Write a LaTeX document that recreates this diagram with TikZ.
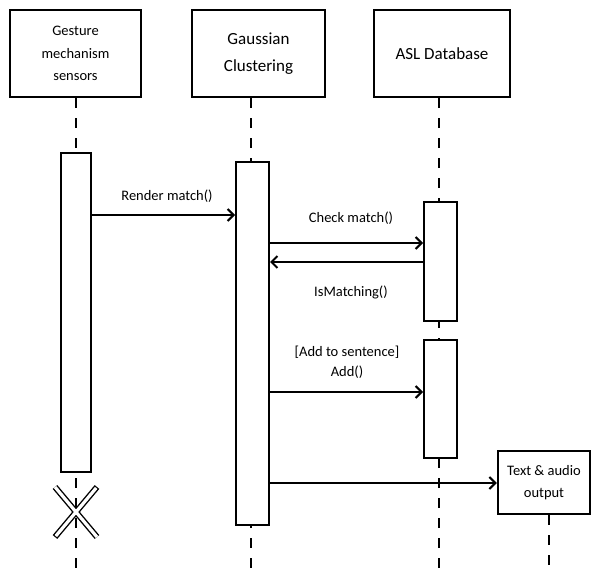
\documentclass[tikz,border=0pt]{standalone}
\usepackage{fontspec}
\setmainfont{Carlito}
\usetikzlibrary{arrows.meta}
\begin{document}
\begin{tikzpicture}[x=1pt,y=-1pt,
  objbox/.style={draw,line width=2.5pt,align=center,inner sep=0pt,font=\fontsize{14.5}{22.5}\selectfont},
  bigtxt/.style={font=\fontsize{17}{27}\selectfont},
  actbar/.style={draw,fill=white,line width=2pt,inner sep=0pt},
  lifeline/.style={line width=2.5pt,dash pattern=on 10pt off 10pt},
  msg/.style={line width=2pt,-{Straight Barb[length=6pt,width=12pt,line width=2pt]}},
  lbl/.style={inner sep=0pt,font=\fontsize{14.5}{20}\selectfont,align=center}]
\useasboundingbox (0,0) rectangle (592,569);
% objects
\node[objbox,minimum width=131pt,minimum height=87pt] (g) at (75.5,53.5) {Gesture\\mechanism\\sensors};
\node[objbox,bigtxt,minimum width=133pt,minimum height=87pt] (c) at (258.5,53.5) {Gaussian\\Clustering};
\node[objbox,bigtxt,minimum width=136pt,minimum height=87pt] (d) at (442,53.5) {ASL Database};
\node[objbox,minimum width=92pt,minimum height=63pt] (t) at (544,482.5) {Text \& audio\\output};
% lifeline coordinates
\coordinate (l1) at (76,569);
\coordinate (l2) at (251,569);
\coordinate (l3) at (439,569);
\coordinate (l4) at (549,569);
\draw[lifeline] (l1 |- g.south) -- (l1);
\draw[lifeline] (l2 |- c.south) -- (l2);
\draw[lifeline] (l3 |- d.south) -- (l3);
\draw[lifeline] (l4 |- t.south) -- (l4);
% activation bars
\node[actbar,minimum width=30pt,minimum height=319pt] (a1) at (76,312.5) {};
\node[actbar,minimum width=33pt,minimum height=363pt] (a2) at (252.5,343.5) {};
\node[actbar,minimum width=33pt,minimum height=119pt] (a3) at (440.5,261.5) {};
\node[actbar,minimum width=33pt,minimum height=118pt] (a4) at (440.5,399) {};
% destruction mark
\coordinate (x1) at (55,487);
\coordinate (x2) at (97,537);
\coordinate (x3) at (97,487);
\coordinate (x4) at (55,537);
\draw[line width=6pt] (x1) -- (x2) (x3) -- (x4);
\draw[white,line width=3.2pt,shorten <=1.2pt,shorten >=1.2pt] (x1) -- (x2) (x3) -- (x4);
% messages
\draw[msg] (a1.east |- 0,215) -- (a2.west |- 0,215);
\node[lbl] (m1) at (167,196) {Render match()};
\draw[msg] (a2.east |- 0,243) -- (a3.west |- 0,243);
\node[lbl] (m2) at (351,218) {Check match()};
\draw[msg] (a3.west |- 0,262) -- (a2.east |- 0,262);
\node[lbl] (m3) at (351,292) {IsMatching()};
\draw[msg] (a2.east |- 0,392) -- (a4.west |- 0,392);
\node[lbl] (m4) at (347,362) {[Add to sentence]\\Add()};
\draw[msg] (a2.east |- 0,483) -- (t.west |- 0,483);
\end{tikzpicture}
\end{document}
